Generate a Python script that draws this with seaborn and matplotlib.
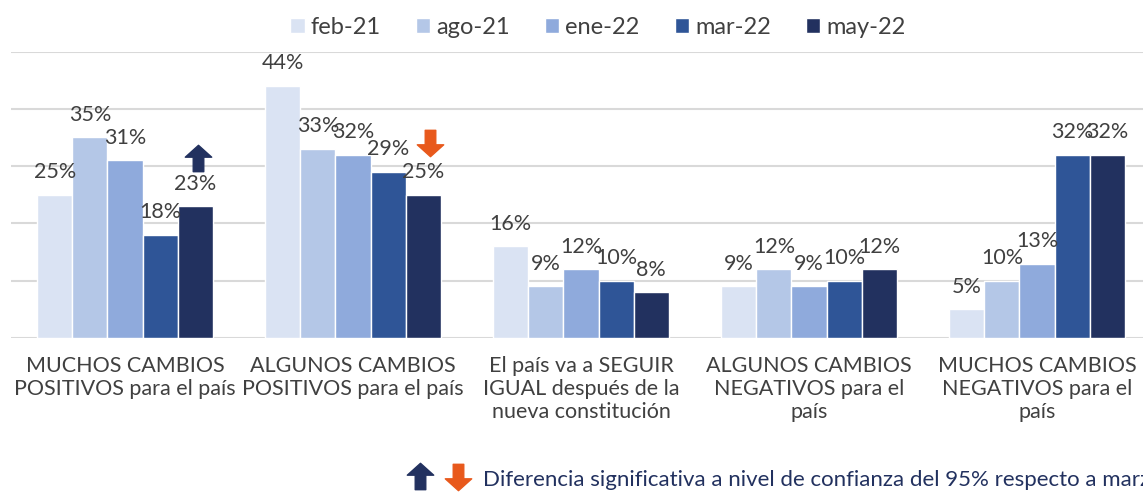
import pandas as pd
import seaborn as sns
import matplotlib.pyplot as plt
from matplotlib.path import Path
from matplotlib.lines import Line2D

# data
categorias = ['MUCHOS CAMBIOS\nPOSITIVOS para el país',
              'ALGUNOS CAMBIOS\nPOSITIVOS para el país',
              'El país va a SEGUIR\nIGUAL después de la\nnueva constitución',
              'ALGUNOS CAMBIOS\nNEGATIVOS para el\npaís',
              'MUCHOS CAMBIOS\nNEGATIVOS para el\npaís']
periodos = ['feb-21', 'ago-21', 'ene-22', 'mar-22', 'may-22']
feb21 = [25, 44, 16, 9, 5]
ago21 = [35, 33, 9, 12, 10]
ene22 = [31, 32, 12, 9, 13]
mar22 = [18, 29, 10, 10, 32]
may22 = [23, 25, 8, 12, 32]

colores = ['#DAE3F3', '#B4C7E7', '#8FAADC', '#2F5597', '#22315F']
nota = 'Diferencia significativa a nivel de confianza del 95% respecto a marzo 2022'

rows = []
for p, vals in zip(periodos, [feb21, ago21, ene22, mar22, may22]):
    for c, v in zip(categorias, vals):
        rows.append({'Categoria': c, 'Periodo': p, 'Valor': v})
df = pd.DataFrame(rows)

sns.set_style('white')
plt.rcParams['font.family'] = ['Lato', 'DejaVu Sans']

fig = plt.figure(figsize=(11.43, 4.93), dpi=100)
ax = fig.add_axes([11 / 1143, 155 / 493, 1140 / 1143, 286.5 / 493])

sns.barplot(data=df, x='Categoria', y='Valor', hue='Periodo', order=categorias,
            hue_order=periodos, palette=colores, saturation=1, width=0.77,
            ax=ax, legend=True)

for cont in ax.containers:
    ax.bar_label(cont, labels=[f'{v:.0f}%' for v in cont.datavalues],
                 padding=9, fontsize=15.5, color='#404040')

ax.set_xlim(-0.5, 4.5)
ax.set_ylim(0, 50)
ax.set_yticks(range(0, 51, 10))
ax.set_yticklabels([])
ax.tick_params(axis='y', length=0)
ax.yaxis.grid(True, color='#D9D9D9', linewidth=1.5)
ax.set_axisbelow(True)
for s in ax.spines.values():
    s.set_visible(False)
ax.set_xlabel('')
ax.set_ylabel('')
ax.tick_params(axis='x', length=0, pad=13, labelsize=15.5, labelcolor='#404040')
for t in ax.get_xticklabels():
    t.set_linespacing(1.2)

# arrow markers
up = Path([(-0.5, 0.05), (0, 0.5), (0.5, 0.05), (0.2, 0.05), (0.2, -0.5),
           (-0.2, -0.5), (-0.2, 0.05), (-0.5, 0.05)], closed=True)
down = Path([(x, -y) for x, y in up.vertices], closed=True)

may_bars = ax.containers[4].patches
b0 = may_bars[0]
ax.plot(b0.get_x() + b0.get_width() / 2 + 0.01, b0.get_height() + 8.4,
        marker=up, ms=19, color='#22315F', linestyle='none')
b1 = may_bars[1]
ax.plot(b1.get_x() + b1.get_width() / 2 + 0.03, b1.get_height() + 9,
        marker=down, ms=19, color='#E8591C', linestyle='none')

# legend
h, l = ax.get_legend_handles_labels()
ax.legend_.remove()
fig.legend(h, l, loc='center', bbox_to_anchor=(598 / 1143, 1 - 27 / 493), ncol=5,
           frameon=False, fontsize=17, handlelength=0.6, handleheight=0.6,
           handletextpad=0.25, columnspacing=1.5, labelcolor='#404040')

# bottom note
fig.add_artist(Line2D([420 / 1143], [1 - 476 / 493], marker=up, ms=19,
                      color='#22315F', transform=fig.transFigure))
fig.add_artist(Line2D([458 / 1143], [1 - 477 / 493], marker=down, ms=19,
                      color='#E8591C', transform=fig.transFigure))
fig.text(483 / 1143, 1 - 480 / 493, nota, fontsize=16, color='#22315F', va='center')

plt.savefig('out.png', dpi=100)
